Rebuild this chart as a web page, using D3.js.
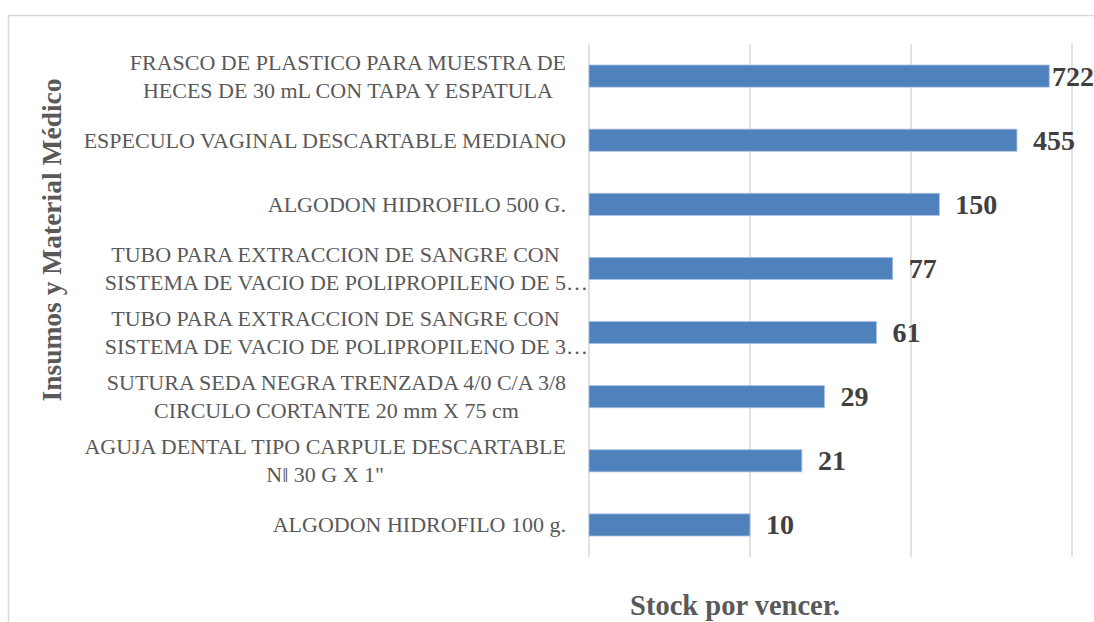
<!DOCTYPE html>
<html>
<head>
<meta charset="utf-8">
<script src="https://cdn.jsdelivr.net/npm/d3@7"></script>
<style>
  body { margin: 0; background: #fff; }
  svg { display: block; }
</style>
</head>
<body>
<div id="my_dataviz"></div>
<script>
// set the dimensions of the graph
var width = 1094,
    height = 622

// data: label lines for each category (top to bottom) and stock values
var categories = [
  ["FRASCO DE PLASTICO PARA MUESTRA DE", "HECES DE 30 mL CON TAPA Y ESPATULA "],
  ["ESPECULO VAGINAL DESCARTABLE MEDIANO"],
  ["ALGODON HIDROFILO 500 G."],
  ["TUBO PARA EXTRACCION DE SANGRE CON", "SISTEMA DE VACIO DE POLIPROPILENO DE 5…"],
  ["TUBO PARA EXTRACCION DE SANGRE CON", "SISTEMA DE VACIO DE POLIPROPILENO DE 3…"],
  ["SUTURA SEDA NEGRA TRENZADA 4/0 C/A 3/8", "CIRCULO CORTANTE 20 mm X 75 cm"],
  ["AGUJA DENTAL TIPO CARPULE DESCARTABLE", "N\u2016 30 G X 1\""],
  ["ALGODON HIDROFILO 100 g."]
]
var values = [722, 455, 150, 77, 61, 29, 21, 10]
var gridTicks = [1, 10, 100, 1000]
var xTitle = "Stock por vencer."
var yTitle = "Insumos y Material Médico"

var ids = d3.range(categories.length)

var svg = d3.select("#my_dataviz")
  .append("svg")
    .attr("width", width)
    .attr("height", height)

// chart border
svg.append("rect")
  .attr("x", 8.5).attr("y", 15.5)
  .attr("width", 1200).attr("height", 800)
  .attr("fill", "none")
  .attr("stroke", "#d9d9d9")
  .attr("stroke-width", 1.5)

// scales (log scale on x)
var x = d3.scaleLog()
  .domain([1, 1000])
  .range([589, 1072])

var y = d3.scaleBand()
  .domain(ids)
  .range([44, 557])
  .paddingInner(0.655)
  .paddingOuter(0.3275)

// vertical gridlines
svg.append("g")
  .selectAll("line")
  .data(gridTicks)
  .enter()
  .append("line")
    .attr("x1", function(d) { return x(d) })
    .attr("x2", function(d) { return x(d) })
    .attr("y1", 44)
    .attr("y2", 557)
    .attr("stroke", "#d9d9d9")
    .attr("stroke-width", 1.5)

// bars
svg.append("g")
  .selectAll("rect")
  .data(ids)
  .enter()
  .append("rect")
    .attr("x", x(1))
    .attr("y", function(i) { return y(i) })
    .attr("width", function(i) { return x(values[i]) - x(1) })
    .attr("height", y.bandwidth())
    .attr("fill", "#4f81bd")
    .attr("stroke", "#a9c1e0")
    .attr("stroke-width", 0.8)

// value labels, pushed back inside when they would run off the page
var vals = svg.append("g")
  .selectAll("text")
  .data(ids)
  .enter()
  .append("text")
    .attr("y", function(i) { return y(i) + y.bandwidth() / 2 })
    .attr("dy", "0.34em")
    .style("font-family", "'Liberation Serif', serif")
    .style("font-weight", "bold")
    .style("font-size", "28px")
    .attr("fill", "#404040")
    .text(function(i) { return values[i] })

vals.attr("x", function(i) {
  var w = this.getComputedTextLength()
  return Math.min(x(values[i]) + 16, width - w)
})

// category labels: lines centred on each other, block right-aligned
var labelRight = 566,
    lineH = 28
var lab = svg.append("g")
  .selectAll("g")
  .data(ids)
  .enter()
  .append("g")

lab.each(function(i) {
  var g = d3.select(this)
  var lines = categories[i]
  var cy = y(i) + y.bandwidth() / 2
  var texts = lines.map(function(s, k) {
    return g.append("text")
      .attr("y", cy + 7.5 + (k - (lines.length - 1) / 2) * lineH)
      .style("font-family", "'Liberation Serif', serif")
      .style("font-size", "22px")
      .attr("fill", "#595959")
      .text(s.replace(/…$/, ""))
  })
  // widths without ellipsis
  var ws = texts.map(function(t) { return t.node().getComputedTextLength() })
  var blockW = d3.max(ws)
  var centre = labelRight - blockW / 2
  texts.forEach(function(t, k) {
    t.attr("x", centre - ws[k] / 2)
    t.text(lines[k])
  })
})

// axis titles
svg.append("text")
  .attr("x", 735)
  .attr("y", 615)
  .attr("text-anchor", "middle")
  .style("font-family", "'Liberation Serif', serif")
  .style("font-weight", "bold")
  .style("font-size", "28.5px")
  .attr("fill", "#595959")
  .text(xTitle)

svg.append("text")
  .attr("transform", "translate(61,240) rotate(-90)")
  .attr("text-anchor", "middle")
  .style("font-family", "'Liberation Serif', serif")
  .style("font-weight", "bold")
  .style("font-size", "27.5px")
  .attr("fill", "#595959")
  .text(yTitle)
</script>
</body>
</html>
